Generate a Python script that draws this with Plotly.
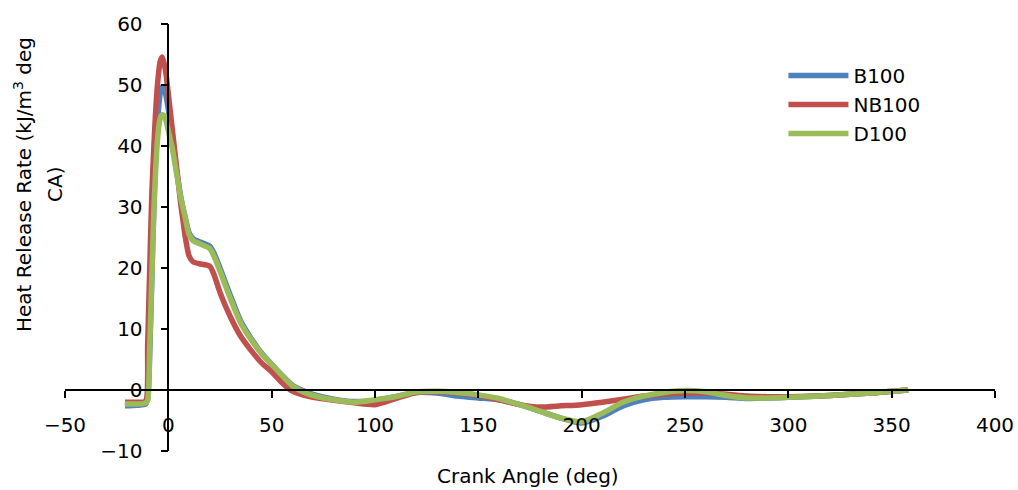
import plotly.graph_objects as go

crank_angle = [-21, -15, -11, -10, -9, -8, -7, -6, -5, -4, -3, -2, -1, 0, 1, 2, 3, 4, 5, 6, 7, 8, 10, 12, 15, 20, 22, 25, 30, 35, 40, 45, 50, 55, 60, 65, 70, 80, 90, 100, 110, 120, 130, 140, 150, 160, 170, 180, 190, 200, 210, 220, 230, 240, 250, 260, 270, 280, 290, 300, 320, 340, 358]

b100 = [-2.6, -2.5, -2.3, -1.5, 6, 18, 30, 39, 45, 48.5, 49.7, 49.5, 48, 46, 43.5, 41, 38.5, 36, 33.8, 31.7, 30, 28.5, 25.8, 24.8, 24.3, 23.6, 22.5, 20, 15.5, 11.3, 8.5, 6.1, 4.2, 2.4, 0.8, -0.1, -0.7, -1.5, -1.9, -1.7, -1.1, -0.4, -0.5, -1.0, -1.3, -1.6, -2.4, -3.5, -4.6, -5.4, -4.3, -2.6, -1.6, -1.2, -1.1, -1.1, -1.2, -1.4, -1.3, -1.2, -0.9, -0.5, 0.0]

nb100 = [-2.0, -2.0, -1.8, 7.5, 20, 32, 40, 46.5, 51, 53.8, 54.6, 53.5, 51.5, 48.5, 45.5, 42.5, 39.5, 36.5, 33.5, 30.5, 28, 25.5, 22, 21, 20.7, 20.3, 19, 16, 12, 8.8, 6.5, 4.5, 3.0, 1.2, -0.2, -0.8, -1.2, -1.7, -2.1, -2.4, -1.4, -0.4, -0.3, -0.5, -0.9, -1.6, -2.4, -2.8, -2.6, -2.4, -2.0, -1.5, -1.0, -0.7, -0.5, -0.5, -0.7, -1.0, -1.1, -1.1, -0.9, -0.5, 0.0]

d100 = [-2.3, -2.3, -2.1, -1.7, 7, 18.5, 29.5, 37, 42, 44.5, 45.1, 45, 44, 42.5, 41, 39.5, 37.5, 35.5, 33.5, 31.5, 30, 28.5, 25.5, 24.5, 24, 23.2, 22, 19.5, 15, 11, 8.3, 6.0, 4.2, 2.4, 0.7, -0.3, -0.9, -1.6, -2.0, -1.6, -1.1, -0.3, -0.2, -0.4, -0.8, -1.4, -2.4, -3.5, -4.6, -5.2, -3.8, -2.0, -1.0, -0.4, -0.1, -0.3, -0.9, -1.3, -1.3, -1.2, -0.9, -0.5, 0.0]

series = [("B100", b100, "#4F81BD"), ("NB100", nb100, "#C0504D"), ("D100", d100, "#9BBB59")]

FONT = "DejaVu Sans"

fig = go.Figure()
for name, ys, color in series:
    fig.add_trace(go.Scatter(
        x=crank_angle, y=ys, name=name, mode="lines",
        line=dict(color=color, width=5.5, shape="spline", smoothing=0.6),
    ))

fig.update_layout(
    width=1018, height=490,
    margin=dict(l=65, r=23, t=24, b=39, autoexpand=False),
    paper_bgcolor="white", plot_bgcolor="white",
    font=dict(family=FONT, size=20, color="black"),
    showlegend=True,
    legend=dict(x=0.7725, y=0.925, xanchor="left", yanchor="top",
                bgcolor="rgba(0,0,0,0)", font=dict(size=20), itemwidth=60),
    xaxis=dict(range=[-50, 400], dtick=50, tick0=0, anchor="free", position=10/70,
               showline=True, linecolor="black", linewidth=1.5,
               ticks="outside", ticklen=7, tickwidth=1.5, tickcolor="black",
               showgrid=False, zeroline=False, ticklabelstandoff=10, automargin=False),
    yaxis=dict(range=[-10, 60], dtick=10, tick0=0, anchor="free", position=50/450,
               showline=True, linecolor="black", linewidth=1.5,
               ticks="outside", ticklen=7, tickwidth=1.5, tickcolor="black",
               showgrid=False, zeroline=False, ticklabelstandoff=14, automargin=False),
)

fig.add_annotation(text="Crank Angle (deg)", xref="paper", yref="paper",
                   x=(528 - 65) / 930, y=(451 - 476) / 427, xanchor="center", yanchor="middle",
                   showarrow=False, font=dict(size=20))
fig.add_annotation(text="Heat Release Rate (kJ/m<sup>3</sup> deg", xref="paper", yref="paper",
                   x=(23 - 65) / 930, y=(451 - 185) / 427, xanchor="center", yanchor="middle",
                   textangle=-90, showarrow=False, font=dict(size=20))
fig.add_annotation(text="CA)", xref="paper", yref="paper",
                   x=(55 - 65) / 930, y=(451 - 185) / 427, xanchor="center", yanchor="middle",
                   textangle=-90, showarrow=False, font=dict(size=20))

fig.write_html("out.html")
